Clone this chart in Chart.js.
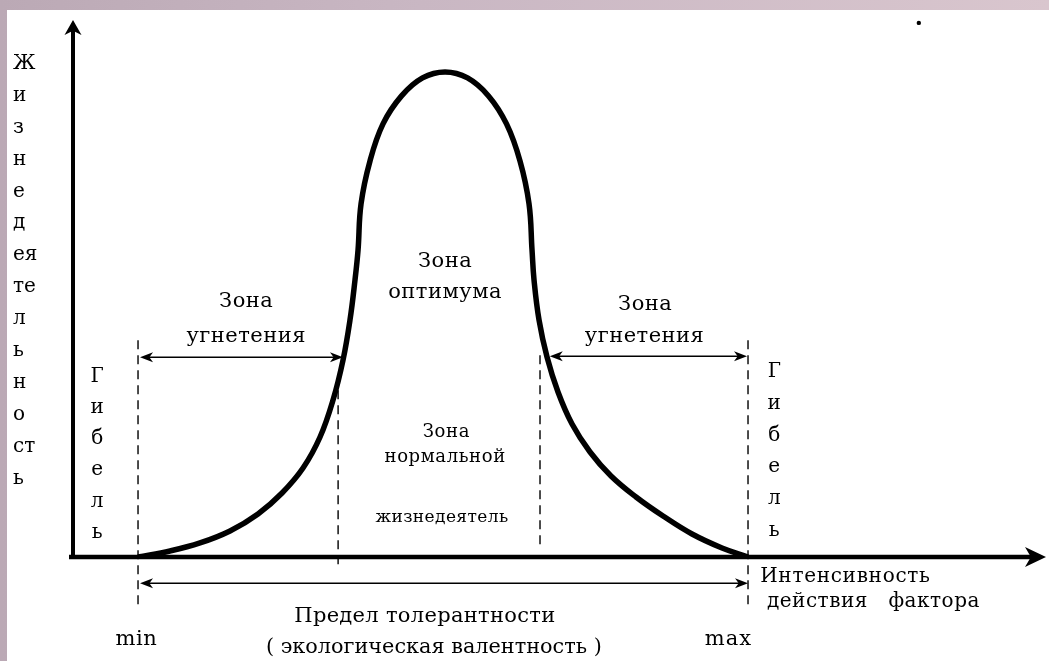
<!DOCTYPE html>
<html>
<head>
<meta charset="utf-8">
<script src="https://cdn.jsdelivr.net/npm/chart.js@4.4.1/dist/chart.umd.min.js"></script>
<style>
  html, body { margin: 0; padding: 0; }
  body { width: 1049px; height: 661px; overflow: hidden; background: linear-gradient(90deg, #bba9b5, #c9b7c3 40%, #d9c6ce); }
  #diagram { position: absolute; left: 7px; top: 10px; background: #fff; }
</style>
</head>
<body>
<canvas id="diagram" width="1042" height="651"></canvas>
<script>
// intensity of the factor (min = 0, max = 100) and vitality (optimum = 100)
const factorLevels = [0, 5.25, 10.16, 15.08, 19.67, 23.61, 27.05, 29.84, 31.97, 33.61, 34.75, 35.57, 36.07,
  36.56, 38.03, 40.16, 43.20, 46.64, 50.33, 54.02, 57.46, 60.41, 62.62, 64.10, 64.59,
  64.92, 65.74, 67.05, 68.85, 71.15, 74.10, 77.54, 81.64, 86.07, 90.82, 95.74, 100];
const vitality = [0, 1.24, 2.89, 5.36, 8.87, 13.20, 18.35, 24.74, 32.37, 40.62, 48.87, 57.11, 63.30,
  72.78, 81.65, 89.28, 95.05, 98.76, 100, 98.76, 95.05, 89.28, 81.65, 72.78, 63.30,
  57.11, 48.87, 41.24, 34.02, 27.42, 21.65, 16.70, 12.37, 8.45, 4.74, 1.86, 0];
// min, end of left suppression zone, start of right suppression zone, max
const zoneEdges = [0, 32.8, 65.9, 100];
const limitLabels = ['min', 'max'];
const yTitle = ['Ж', 'и', 'з', 'н', 'е', 'д', 'ея', 'те', 'л', 'ь', 'н', 'о', 'ст', 'ь'];
const deathLetters = ['Г', 'и', 'б', 'е', 'л', 'ь'];
const xTitle = ['Интенсивность', 'действия   фактора'];
const toleranceText = ['Предел толерантности', '( экологическая валентность )'];

// Liberation Serif has no Cyrillic here, DejaVu Serif does
const serif = '"DejaVu Serif", serif';

function arrowHead(ctx, tx, ty, dx, dy, len, half) {
  const bx = tx - dx * len, by = ty - dy * len;
  const nx = tx - dx * len * 0.72, ny = ty - dy * len * 0.72;
  ctx.beginPath();
  ctx.moveTo(tx, ty);
  ctx.lineTo(bx - dy * half, by + dx * half);
  ctx.lineTo(nx, ny);
  ctx.lineTo(bx + dy * half, by - dx * half);
  ctx.closePath();
  ctx.fill();
}

function dimArrow(ctx, xa, xb, yy) {
  ctx.lineWidth = 1.5;
  ctx.beginPath();
  ctx.moveTo(xa + 4, yy);
  ctx.lineTo(xb - 4, yy);
  ctx.stroke();
  arrowHead(ctx, xa, yy, -1, 0, 13, 5);
  arrowHead(ctx, xb, yy, 1, 0, 13, 5);
}

function label(ctx, text, px, py, size, spacing, align) {
  ctx.font = size + 'px ' + serif;
  ctx.letterSpacing = spacing + 'px';
  ctx.textAlign = align || 'center';
  ctx.textBaseline = 'alphabetic';
  let w = 0;
  if ((align || 'center') === 'center') w = spacing / 2;
  ctx.fillText(text, px + w, py);
}

const diagramPlugin = {
  id: 'diagram',
  beforeDatasetsDraw(chart) {
    const { ctx, chartArea: a, scales: { x, y } } = chart;
    const x0 = x.getPixelForValue(x.min), y0 = y.getPixelForValue(0);
    ctx.save();
    ctx.fillStyle = '#000';
    ctx.strokeStyle = '#000';
    ctx.lineWidth = 4;
    ctx.beginPath();
    ctx.moveTo(x0, y0 + 2);
    ctx.lineTo(x0, a.top + 10);
    ctx.stroke();
    arrowHead(ctx, x0, a.top, 0, -1, 15, 8.5);
    ctx.lineWidth = 4.5;
    ctx.beginPath();
    ctx.moveTo(x0 - 4, y0);
    ctx.lineTo(a.right - 14, y0);
    ctx.stroke();
    arrowHead(ctx, a.right, y0, 1, 0, 21, 10);
    ctx.restore();
  },
  afterDatasetsDraw(chart) {
    const { ctx, scales: { x, y } } = chart;
    const X = v => x.getPixelForValue(v), Y = v => y.getPixelForValue(v);
    ctx.save();
    ctx.fillStyle = '#000';
    ctx.strokeStyle = '#000';

    // dashed zone boundaries
    ctx.setLineDash([9, 6]);
    ctx.lineWidth = 1.4;
    const dashSpans = [[44.7, -9.9], [34.4, -1.6], [41.6, 2.1], [44.7, -9.9]];
    zoneEdges.forEach((e, i) => {
      ctx.beginPath();
      ctx.moveTo(X(e), Y(dashSpans[i][0]));
      ctx.lineTo(X(e), Y(dashSpans[i][1]));
      ctx.stroke();
    });
    ctx.setLineDash([]);

    // zone arrows
    dimArrow(ctx, X(zoneEdges[0]) + 2, X(33.6), Y(41.2));
    dimArrow(ctx, X(67.5), X(zoneEdges[3]) - 1, Y(41.4));
    dimArrow(ctx, X(zoneEdges[0]) + 2, X(zoneEdges[3]), Y(-5.4));

    // zone labels
    label(ctx, 'Зона', X(17.7), Y(51.5), 21, 0.5);
    label(ctx, 'угнетения', X(17.7), Y(44.3), 21, 0.5);
    label(ctx, 'Зона', X(83.1), Y(50.9), 21, 0.5);
    label(ctx, 'угнетения', X(83.0), Y(44.3), 21, 0.5);
    label(ctx, 'Зона', X(50.3), Y(59.8), 21, 0.5);
    label(ctx, 'оптимума', X(50.3), Y(53.4), 21, 0.5);
    label(ctx, 'Зона', X(50.5), Y(24.7), 18, 0.6);
    label(ctx, 'нормальной', X(50.3), Y(19.6), 18, 0.6);
    label(ctx, 'жизнедеятель', X(49.8), Y(7.2), 17, 0.4);

    // death zones
    deathLetters.forEach((c, i) => {
      label(ctx, c, X(-6.7), Y(36.1) + i * 31.2, 20, 0);
      label(ctx, c, X(104.3), Y(37.1) + i * 31.8, 20, 0);
    });

    // y title, stacked
    yTitle.forEach((c, i) => {
      label(ctx, c, X(-20.5), Y(100.6) + i * 31.9, 20, 0, 'left');
    });

    // x title
    label(ctx, xTitle[0], X(102.0), Y(-5.15), 20, 0.7, 'left');
    label(ctx, xTitle[1], X(103.1), Y(-10.3), 20, 0.5, 'left');

    // min / max
    label(ctx, limitLabels[0], X(-0.3), Y(-18.1), 21, 0.5);
    label(ctx, limitLabels[1], X(96.7), Y(-18.1), 21, 1);

    // tolerance
    label(ctx, toleranceText[0], X(47.0), Y(-13.4), 21, 0.3);
    label(ctx, toleranceText[1], X(48.5), Y(-19.8), 20.8, 0);

    // stray dot
    ctx.beginPath();
    ctx.arc(X(128.0), Y(110.1), 2.2, 0, Math.PI * 2);
    ctx.fill();
    ctx.restore();
  }
};

const ctx = document.getElementById('diagram').getContext('2d');
const chart = new Chart(ctx, {
  type: 'line',
  data: {
    datasets: [{
      data: factorLevels.map((f, i) => ({ x: f, y: vitality[i] })),
      borderColor: '#000',
      borderWidth: 5.5,
      pointRadius: 0,
      tension: 0.4,
      fill: false
    }]
  },
  options: {
    responsive: false,
    animation: false,
    layout: { padding: { left: 66, top: 10, right: 3, bottom: 104 } },
    plugins: { legend: { display: false }, tooltip: { enabled: false } },
    scales: {
      x: { type: 'linear', min: -10.66, max: 148.85, display: false },
      y: { type: 'linear', min: 0, max: 110.7, display: false }
    }
  },
  plugins: [diagramPlugin]
});
</script>
</body>
</html>
